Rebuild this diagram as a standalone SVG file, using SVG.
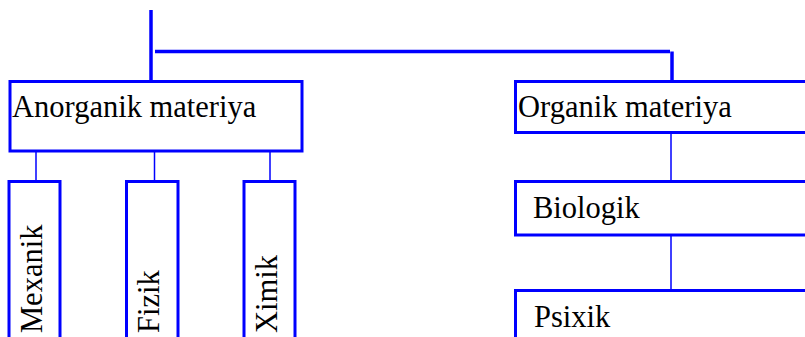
<svg xmlns="http://www.w3.org/2000/svg" width="805" height="337" viewBox="0 0 805 337">
<style>
.box{fill:#fff;stroke:#0000ff;stroke-width:3}
.thick{stroke:#0000ff;stroke-width:3.5;fill:none}
.thin{stroke:#0000ff;stroke-width:1.5;fill:none}
.lbl{font-family:"Liberation Serif","Times New Roman",serif;font-size:30.5px;fill:#000}
</style>
<rect width="805" height="337" fill="#fff"/>
<g id="connectors">
<line class="thick" x1="151" y1="10" x2="151" y2="80"/>
<line class="thick" x1="155" y1="51.5" x2="670" y2="51.5"/>
<line class="thick" x1="672" y1="51.5" x2="672" y2="80"/>
<line class="thin" x1="36" y1="152" x2="36" y2="180"/>
<line class="thin" x1="154.5" y1="152" x2="154.5" y2="180"/>
<line class="thin" x1="270" y1="152" x2="270" y2="180"/>
<line class="thin" x1="671" y1="133" x2="671" y2="180"/>
<line class="thin" x1="671" y1="235" x2="671" y2="290"/>
</g>
<g id="anorganik">
<rect class="box" x="10" y="81.5" width="292" height="69.5"/>
<text class="lbl" x="12" y="117">Anorganik materiya</text>
</g>
<g id="organik">
<rect class="box" x="515.5" y="81.5" width="300" height="51"/>
<text class="lbl" x="518" y="117">Organik materiya</text>
</g>
<g id="biologik">
<rect class="box" x="515.5" y="181.5" width="300" height="53.5"/>
<text class="lbl" x="533" y="218">Biologik</text>
</g>
<g id="psixik">
<rect class="box" x="515.5" y="290.5" width="300" height="60"/>
<text class="lbl" x="534" y="327">Psixik</text>
</g>
<g id="mexanik">
<rect class="box" x="9" y="181.5" width="51" height="160"/>
<text class="lbl" transform="translate(42,333) rotate(-90)">Mexanik</text>
</g>
<g id="fizik">
<rect class="box" x="126.5" y="181.5" width="51.5" height="160"/>
<text class="lbl" transform="translate(159,333) rotate(-90)">Fizik</text>
</g>
<g id="ximik">
<rect class="box" x="244" y="181.5" width="51" height="160"/>
<text class="lbl" transform="translate(277,333) rotate(-90)">Ximik</text>
</g>
</svg>
